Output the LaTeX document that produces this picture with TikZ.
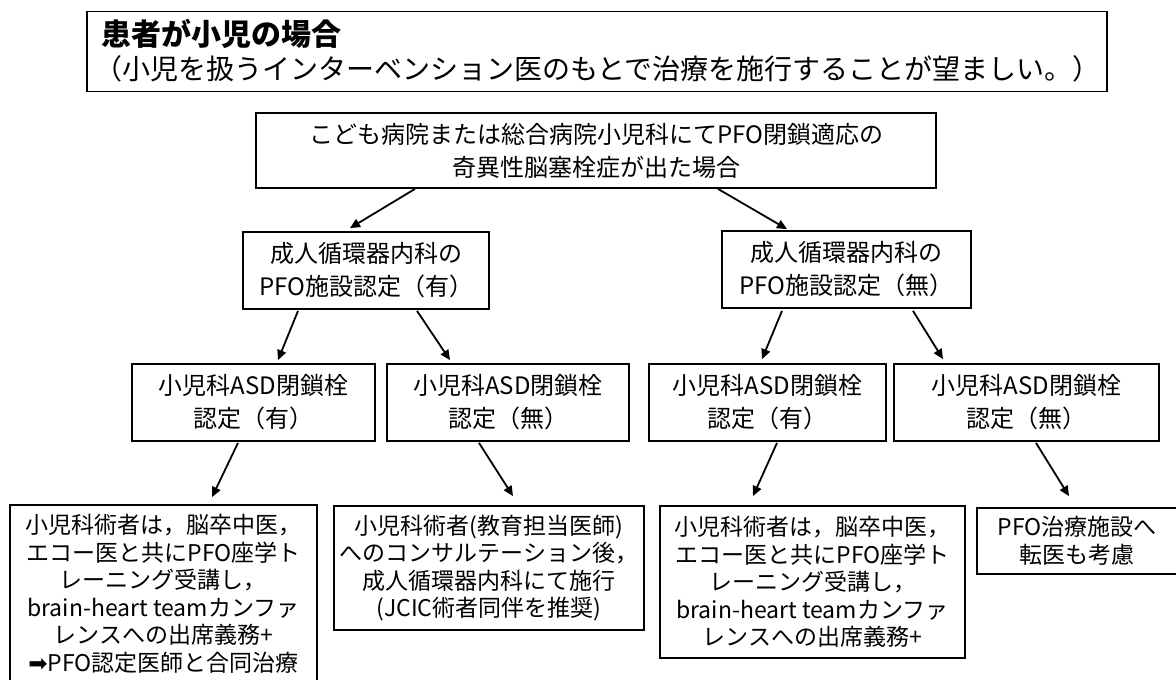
\documentclass[tikz,border=0pt]{standalone}
\usepackage{fontspec}
\setmainfont{Noto Sans CJK JP}
\newfontfamily\dejavu{DejaVu Sans}
\usetikzlibrary{arrows.meta,calc}
\begin{document}
\begin{tikzpicture}[x=1pt,y=-1pt,
  box/.style={draw, line width=1.8pt, rectangle, inner sep=0pt, align=center},
  big/.style={font=\fontsize{24}{33}\selectfont},
  small/.style={font=\fontsize{23}{27.5}\selectfont},
  arr/.style={line width=1.8pt, -{Triangle[length=10pt,width=9pt]}},
  txt/.style={inner sep=0pt, anchor=west}]
\useasboundingbox (0,0) rectangle (1176,680);
% header box
\node[box, minimum width=1020pt, minimum height=80pt] (hdr) at (597,51.5) {};
\node[txt, font=\fontsize{30}{33}\selectfont\bfseries] (ttl) at ($(hdr.north west)+(15,23)$) {患者が小児の場合};
\node[txt, font=\fontsize{28}{31}\selectfont] (sub) at ($(hdr.north west)+(8,58)$) {（小児を扱うインターベンション医のもとで治療を施行することが望ましい。）};
% level 1
\node[box, big, minimum width=680pt, minimum height=75pt] (top) at (596,150.5)
  {こども病院または総合病院小児科にてPFO閉鎖適応の\\奇異性脳塞栓症が出た場合};
% level 2
\node[box, big, minimum width=246pt, minimum height=77pt] (l2a) at (366,270.5)
  {成人循環器内科の\\PFO施設認定（有）};
\node[box, big, minimum width=249pt, minimum height=77pt] (l2b) at (846.5,269.5)
  {成人循環器内科の\\PFO施設認定（無）};
% level 3
\node[box, big, minimum width=243pt, minimum height=77pt] (l3a) at (253.5,402.5)
  {小児科ASD閉鎖栓\\認定（有）};
\node[box, big, minimum width=242pt, minimum height=77pt] (l3b) at (508,402.5)
  {小児科ASD閉鎖栓\\認定（無）};
\node[box, big, minimum width=237pt, minimum height=77pt] (l3c) at (767.5,402.5)
  {小児科ASD閉鎖栓\\認定（有）};
\node[box, big, minimum width=265pt, minimum height=77pt] (l3d) at (1026.5,402.5)
  {小児科ASD閉鎖栓\\認定（無）};
% level 4
\node[box, small, minimum width=307pt, minimum height=178pt] (l4a) at (163.5,594)
  {小児科術者は，脳卒中医，\\エコー医と共にPFO座学ト\\レーニング受講し，\\brain-heart teamカンファ\\レンスへの出席義務+\\{\dejavu ➡}PFO認定医師と合同治療};
\node[box, small, minimum width=310pt, minimum height=124pt] (l4b) at (489,568)
  {小児科術者(教育担当医師)\\へのコンサルテーション後，\\成人循環器内科にて施行\\(JCIC術者同伴を推奨)};
\node[box, small, minimum width=305pt, minimum height=152pt] (l4c) at (812.5,582)
  {小児科術者は，脳卒中医，\\エコー医と共にPFO座学ト\\レーニング受講し，\\brain-heart teamカンファ\\レンスへの出席義務+};
\node[box, small, minimum width=200pt, minimum height=66pt] (l4d) at (1077,541)
  {PFO治療施設へ\\転医も考慮};
% arrows
\draw[arr] ($(top.south)+(-181,0)$) -- ($(l2a.north)+(-16,-3)$);
\draw[arr] ($(top.south)+(122,0)$) -- ($(l2b.north)+(-59.5,-1)$);
\draw[arr] ($(l2a.south)+(-68,1)$) -- ($(l3a.north)+(24.5,-3)$);
\draw[arr] ($(l2a.south)+(51,1)$) -- ($(l3b.north)+(-58,-3)$);
\draw[arr] ($(l2b.south)+(-64.5,2)$) -- ($(l3c.north)+(-5.5,-4)$);
\draw[arr] ($(l2b.south)+(66.5,2)$) -- ($(l3d.north)+(-83.5,-4)$);
\draw[arr] ($(l3a.south)+(-15.5,1)$) -- ($(l4a.north)+(48.5,-7)$);
\draw[arr] ($(l3b.south)+(-29,1)$) -- ($(l4b.north)+(24,-9)$);
\draw[arr] ($(l3c.south)+(9.5,1)$) -- ($(l4c.north)+(-59.5,-9)$);
\draw[arr] ($(l3d.south)+(9.5,1)$) -- ($(l4d.north)+(-8,-11)$);
\end{tikzpicture}
\end{document}
